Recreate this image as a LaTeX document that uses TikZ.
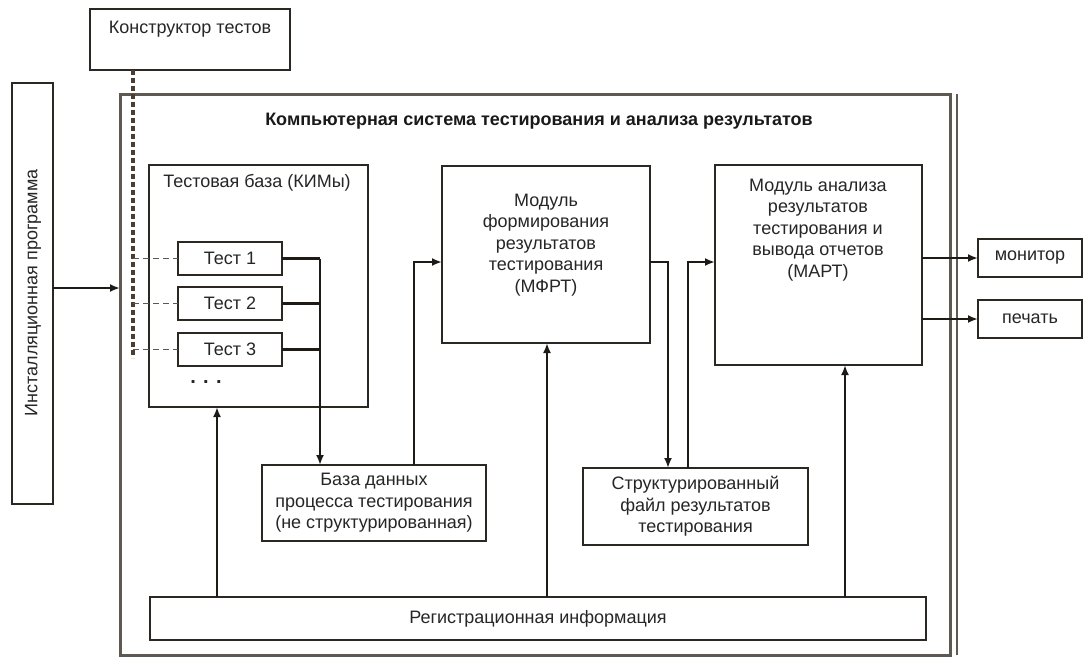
\documentclass[tikz,border=0pt]{standalone}
\usepackage{fontspec}
\setmainfont{Liberation Sans}
\usetikzlibrary{arrows.meta}
\definecolor{boxc}{HTML}{2B2824}
\definecolor{framec}{HTML}{5E5A52}
\definecolor{linec}{HTML}{1E1A16}
\definecolor{dashc}{HTML}{4A3E30}
\tikzset{
  box/.style={draw=boxc, line width=2.8pt, fill=white, inner sep=0pt, outer sep=0pt, anchor=north west},
  framebox/.style={draw=framec, line width=3pt, inner sep=0pt, outer sep=0pt, anchor=north west},
  lbl/.style={font=\fontsize{18}{21.5}\selectfont, align=center, inner sep=0pt, text=black!85},
  boxtxt/.style={box, font=\fontsize{18}{21.5}\selectfont, align=center, text=black!85},
  ttl/.style={font=\fontsize{18}{21}\selectfont\bfseries, inner sep=0pt, text=black!90},
  conn/.style={draw=linec, line width=2.6pt},
  arr/.style={conn, -{Latex[length=10pt,width=8pt]}},
  bigdash/.style={draw=dashc, line width=3.4pt, dash pattern=on 5pt off 3pt},
  smalldash/.style={draw=black!65, line width=1.4pt, dash pattern=on 6pt off 4pt},
}
\begin{document}
\begin{tikzpicture}[x=1pt,y=-1pt]
\useasboundingbox[fill=white] (0,0) rectangle (1085,657);
% outer frame
\node[framebox, minimum width=830pt, minimum height=561pt] (outer) at (120,94) {};
\draw[draw=framec, line width=1.8pt] ([xshift=7pt]outer.north east) -- ([xshift=7pt]outer.south east);
\node[ttl] (title) at (539,121) {Компьютерная система тестирования и анализа результатов};
% top box
\node[box, minimum width=200pt, minimum height=61pt] (ktor) at (90,9) {};
\node[lbl] (ktort) at (190,29) {Конструктор тестов};
% install box
\node[box, minimum width=41pt, minimum height=421pt] (inst) at (12,83) {};
\node[lbl, rotate=90] (instt) at (33,293) {Инсталляционная программа};
% test base
\node[box, minimum width=219pt, minimum height=242pt] (kim) at (149,165) {};
\node[lbl] (kimt) at (257,183) {Тестовая база (КИМы)};
\node[boxtxt, minimum width=104pt, minimum height=33pt] (t1) at (178,242) {Тест 1};
\node[boxtxt, minimum width=104pt, minimum height=33pt] (t2) at (178,287) {Тест 2};
\node[boxtxt, minimum width=104pt, minimum height=33pt] (t3) at (178,333) {Тест 3};
\node[lbl, font=\fontsize{20}{22}\selectfont\bfseries] (dots) at (206,382) {. . .};
% database
\node[boxtxt, minimum width=224pt, minimum height=76pt] (bd) at (262,465) {База данных\\процесса тестирования\\(не структурированная)};
% MFRT
\node[box, minimum width=208pt, minimum height=177pt] (mfrt) at (442,166) {};
\node[lbl] (mfrtt) at (546,245) {Модуль\\формирования\\результатов\\тестирования\\(МФРТ)};
% structured file
\node[boxtxt, minimum width=225pt, minimum height=77pt] (str) at (583,468) {Структурированный\\файл результатов\\тестирования};
% MART
\node[box, minimum width=207pt, minimum height=200pt] (mart) at (715,165) {};
\node[lbl] (martt) at (818,230) {Модуль анализа\\результатов\\тестирования и\\вывода отчетов\\(МАРТ)};
% outputs
\node[boxtxt, minimum width=104pt, minimum height=38pt] (mon) at (978,239) {монитор};
\node[boxtxt, minimum width=104pt, minimum height=38pt] (pech) at (978,300) {печать};
% registration
\node[boxtxt, minimum width=776pt, minimum height=43pt] (reg) at (150,597) {Регистрационная информация};
% helper coordinates
\coordinate (dtop) at (133,70);
\coordinate (dbot) at (133,358);
\coordinate (bus) at (320,0);
\coordinate (bdx) at (414,0);
\coordinate (row) at (0,262);
\coordinate (sx1) at (668,0);
\coordinate (sx2) at (688,0);
\coordinate (rx1) at (217,0);
\coordinate (rx2) at (547,0);
\coordinate (rx3) at (845,0);
\coordinate (iy) at (0,288);
% dashed constructor line
\draw[bigdash] (dtop) -- (dbot);
\draw[smalldash] (t1.west -| dtop) -- (t1.west);
\draw[smalldash] (t2.west -| dtop) -- (t2.west);
\draw[smalldash] (t3.west -| dtop) -- (t3.west);
% tests to database
\draw[conn] (t1.east) -- (t1.east -| bus);
\draw[conn] (t2.east) -- (t2.east -| bus);
\draw[conn] (t3.east) -- (t3.east -| bus);
\draw[arr] (t1.east -| bus) -- (bus |- bd.north);
% database to MFRT
\draw[arr] (bdx |- bd.north) |- (mfrt.west |- row);
% MFRT to structured file
\draw[arr] (mfrt.east |- row) -| (sx1 |- str.north);
% structured file to MART
\draw[arr] (sx2 |- str.north) |- (mart.west |- row);
% MART outputs
\draw[arr] (mart.east |- mon.west) -- (mon.west);
\draw[arr] (mart.east |- pech.west) -- (pech.west);
% registration arrows
\draw[arr] (rx1 |- reg.north) -- (rx1 |- kim.south);
\draw[arr] (rx2 |- reg.north) -- (rx2 |- mfrt.south);
\draw[arr] (rx3 |- reg.north) -- (rx3 |- mart.south);
% install arrow
\draw[arr] (inst.east |- iy) -- (outer.west |- iy);
\end{tikzpicture}
\end{document}
